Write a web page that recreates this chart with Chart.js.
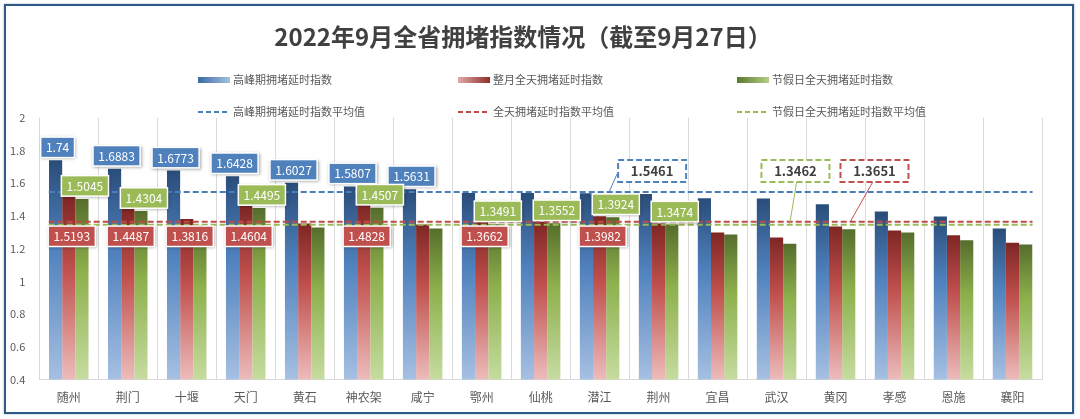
<!DOCTYPE html>
<html lang="zh-CN">
<head>
  <meta charset="UTF-8" />
  <title>2022年9月全省拥堵指数情况</title>
  <style>
    body {
      margin: 0;
      padding: 0;
      background: #fff;
      font-family: 'Noto Sans CJK SC', 'Noto Sans', sans-serif;
    }
    .wrap {
      position: relative;
      width: 1080px;
      height: 419px;
    }
    .frame {
      position: absolute;
      left: 4px;
      top: 4px;
      width: 1066px;
      height: 406px;
      border: 2.5px solid #2e5a88;
      box-shadow: 0 0 2px rgba(46, 90, 136, 0.5);
    }
    canvas {
      position: absolute;
      left: 0;
      top: 0;
    }
  </style>
</head>
<body>
  <div class="wrap">
    <div class="frame"></div>
    <canvas id="chart" width="1080" height="419"></canvas>
  </div>

  <script src="https://cdn.jsdelivr.net/npm/chart.js"></script>

  <script>
    // 数据
    const cities = ['随州', '荆门', '十堰', '天门', '黄石', '神农架', '咸宁', '鄂州', '仙桃',
                    '潜江', '荆州', '宜昌', '武汉', '黄冈', '孝感', '恩施', '襄阳'];
    const peakIndex = [1.74, 1.6883, 1.6773, 1.6428, 1.6027, 1.5807, 1.5631, 1.541, 1.540,
                       1.539, 1.534, 1.508, 1.507, 1.472, 1.428, 1.397, 1.323];
    const monthIndex = [1.5193, 1.4487, 1.3816, 1.4604, 1.354, 1.4828, 1.348, 1.3662, 1.364,
                        1.3982, 1.354, 1.299, 1.268, 1.335, 1.311, 1.282, 1.237];
    const holidayIndex = [1.5045, 1.4304, 1.344, 1.4495, 1.329, 1.4507, 1.323, 1.3491, 1.3552,
                          1.3924, 1.3474, 1.287, 1.231, 1.319, 1.299, 1.252, 1.225];
    const peakAvg = 1.5461;
    const monthAvg = 1.3651;
    const holidayAvg = 1.3462;
    const yTicks = [0.4, 0.6, 0.8, 1, 1.2, 1.4, 1.6, 1.8, 2];

    // 哪些柱子显示数值标签
    const peakLabelIdx = [0, 1, 2, 3, 4, 5, 6];
    const monthLabelIdx = [0, 1, 2, 3, 5, 7, 9];
    const holidayLabelIdx = [0, 1, 3, 5, 7, 8, 9, 10];

    const FONT = "'Noto Sans CJK SC', 'Noto Sans', sans-serif";
    const BLUE = ['#2a4d7a', '#4f81bd', '#a6c0e2'];
    const RED = ['#7e2624', '#c0504d', '#ecbcbb'];
    const GREEN = ['#566d2c', '#8db04c', '#c6dca0'];
    const LINE_OVERHANG = 0.34; // 平均线超出首尾类别中心的距离(类别宽度)

    // 每根柱子从上到下的渐变
    function barGradient(cols) {
      return (c) => {
        const chart = c.chart;
        const area = chart.chartArea;
        if (!area || c.type !== 'data' || !c.parsed) return cols[1];
        const top = chart.scales.y.getPixelForValue(c.parsed.y);
        const g = chart.ctx.createLinearGradient(0, top, 0, area.bottom);
        g.addColorStop(0, cols[0]);
        g.addColorStop(0.4, cols[1]);
        g.addColorStop(1, cols[2]);
        return g;
      };
    }

    // 平均线: 每个类别一个点, 首尾稍微延长
    const avgLine = (v) => cities.map((c, i) => {
      let x = i;
      if (i === 0) x = -LINE_OVERHANG;
      if (i === cities.length - 1) x = i + LINE_OVERHANG;
      return { x: x, y: v };
    });

    function drawTag(ctx, text, cx, cy, color) {
      ctx.save();
      ctx.font = '12px ' + FONT;
      const w = ctx.measureText(text).width + 9;
      const h = 19;
      ctx.shadowColor = 'rgba(0,0,0,0.35)';
      ctx.shadowBlur = 3;
      ctx.shadowOffsetX = 1;
      ctx.shadowOffsetY = 1;
      ctx.fillStyle = '#fff';
      ctx.fillRect(cx - w / 2 - 1.5, cy - h / 2 - 1.5, w + 3, h + 3);
      ctx.shadowColor = 'transparent';
      ctx.fillStyle = color;
      ctx.fillRect(cx - w / 2, cy - h / 2, w, h);
      ctx.fillStyle = '#fff';
      ctx.textAlign = 'center';
      ctx.textBaseline = 'middle';
      ctx.fillText(text, cx, cy + 0.5);
      ctx.restore();
    }

    const tagSpecs = [
      { ds: 0, idx: peakLabelIdx, color: '#4f81bd', dx: 2, gap: 13 },
      { ds: 2, idx: holidayLabelIdx, color: '#9bbb59', dx: 3, gap: 13 },
      { ds: 1, idx: monthLabelIdx, color: '#c0504d', dx: 3, atValue: 1.276 }
    ];

    // 平均值标注框 (位置用 x/y 轴坐标)
    const callouts = [
      { ds: 3, value: peakAvg, color: '#4f81bd', bx: 9.89, by: 1.675, from: [9.30, 1.66], to: 9.16 },
      { ds: 5, value: holidayAvg, color: '#9bbb59', bx: 12.32, by: 1.675, from: [12.34, 1.607], to: 12.22 },
      { ds: 4, value: monthAvg, color: '#c0504d', bx: 13.66, by: 1.675, from: [13.63, 1.607], to: 13.25 }
    ];

    const labelPlugin = {
      id: 'valueLabels',
      afterDatasetsDraw(chart) {
        const ctx = chart.ctx;
        const ys = chart.scales.y;
        const xs = chart.scales.x;
        tagSpecs.forEach(spec => {
          const meta = chart.getDatasetMeta(spec.ds);
          const data = chart.data.datasets[spec.ds].data;
          spec.idx.forEach(i => {
            const bar = meta.data[i];
            const cy = spec.atValue ? ys.getPixelForValue(spec.atValue) : bar.y - spec.gap;
            drawTag(ctx, String(data[i]), bar.x + spec.dx, cy, spec.color);
          });
        });

        callouts.forEach(co => {
          const cx = xs.getPixelForValue(co.bx);
          const cy = ys.getPixelForValue(co.by);
          ctx.save();
          ctx.strokeStyle = co.color;
          ctx.lineWidth = 1;
          ctx.beginPath();
          ctx.moveTo(xs.getPixelForValue(co.from[0]), ys.getPixelForValue(co.from[1]));
          ctx.lineTo(xs.getPixelForValue(co.to), ys.getPixelForValue(co.value));
          ctx.stroke();
          const w = 68, h = 22;
          ctx.fillStyle = '#fff';
          ctx.fillRect(cx - w / 2, cy - h / 2, w, h);
          ctx.setLineDash([6, 3]);
          ctx.lineWidth = 2;
          ctx.strokeRect(cx - w / 2, cy - h / 2, w, h);
          ctx.setLineDash([]);
          ctx.fillStyle = '#404040';
          ctx.font = 'bold 13px ' + FONT;
          ctx.textAlign = 'center';
          ctx.textBaseline = 'middle';
          ctx.fillText(String(co.value), cx, cy + 0.5);
          ctx.restore();
        });
      }
    };

    // 两行三列的图例
    const legendPlugin = {
      id: 'gridLegend',
      afterDraw(chart) {
        const ctx = chart.ctx;
        const cols = [198, 458, 737];
        const rows = [80, 112];
        ctx.save();
        ctx.font = '11px ' + FONT;
        ctx.textBaseline = 'middle';
        chart.data.datasets.forEach((ds, i) => {
          const x = cols[i % 3];
          const y = rows[Math.floor(i / 3)];
          if (ds.type === 'line') {
            ctx.strokeStyle = ds.borderColor;
            ctx.lineWidth = 2;
            ctx.setLineDash([5, 3]);
            ctx.beginPath();
            ctx.moveTo(x, y);
            ctx.lineTo(x + 32, y);
            ctx.stroke();
            ctx.setLineDash([]);
          } else {
            const g = ctx.createLinearGradient(x, 0, x + 32, 0);
            g.addColorStop(0, ds.swatch[0]);
            g.addColorStop(1, ds.swatch[1]);
            ctx.fillStyle = g;
            ctx.fillRect(x, y - 3, 32, 6);
          }
          ctx.fillStyle = '#595959';
          ctx.fillText(ds.label, x + 35, y);
        });
        ctx.restore();
      }
    };

    const lineDs = (label, v, color) => ({
      type: 'line',
      label: label,
      data: avgLine(v),
      parsing: false,
      borderColor: color,
      borderWidth: 2,
      borderDash: [6, 3],
      pointRadius: 0,
      fill: false,
      order: 0
    });

    new Chart(document.getElementById('chart').getContext('2d'), {
      type: 'bar',
      data: {
        labels: cities,
        datasets: [
          { label: '高峰期拥堵延时指数', data: peakIndex, backgroundColor: barGradient(BLUE),
            swatch: ['#3a6aa3', '#a6c0e2'], order: 1 },
          { label: '整月全天拥堵延时指数', data: monthIndex, backgroundColor: barGradient(RED),
            swatch: ['#e3a9a8', '#8e2e2b'], order: 1 },
          { label: '节假日全天拥堵延时指数', data: holidayIndex, backgroundColor: barGradient(GREEN),
            swatch: ['#5d7630', '#b5cf87'], order: 1 },
          lineDs('高峰期拥堵延时指数平均值', peakAvg, '#4a7ebb'),
          lineDs('全天拥堵延时指数平均值', monthAvg, '#be4b48'),
          lineDs('节假日全天拥堵延时指数平均值', holidayAvg, '#9bbb59')
        ]
      },
      options: {
        responsive: false,
        animation: false,
        layout: { padding: { left: 4, right: 38, top: 0, bottom: 3 } },
        datasets: {
          bar: { categoryPercentage: 0.67, barPercentage: 1.0 }
        },
        plugins: {
          legend: { display: false },
          tooltip: { enabled: false },
          title: {
            display: true,
            text: '2022年9月全省拥堵指数情况（截至9月27日）',
            color: '#404040',
            font: { family: FONT, size: 24, weight: 'bold' },
            padding: { top: 22, bottom: 67 }
          }
        },
        scales: {
          x: {
            grid: { color: '#d9d9d9', offset: true, drawTicks: false },
            border: { color: '#d9d9d9' },
            ticks: { color: '#595959', font: { family: FONT, size: 12 }, padding: 11 }
          },
          y: {
            min: yTicks[0],
            max: yTicks[yTicks.length - 1],
            grid: { display: false },
            border: { display: false },
            afterBuildTicks: (axis) => { axis.ticks = yTicks.map(v => ({ value: v })); },
            ticks: {
              color: '#595959',
              font: { family: FONT, size: 11 },
              padding: 6,
              callback: (v) => String(+Number(v).toFixed(1))
            }
          }
        }
      },
      plugins: [labelPlugin, legendPlugin]
    });
  </script>
</body>
</html>
